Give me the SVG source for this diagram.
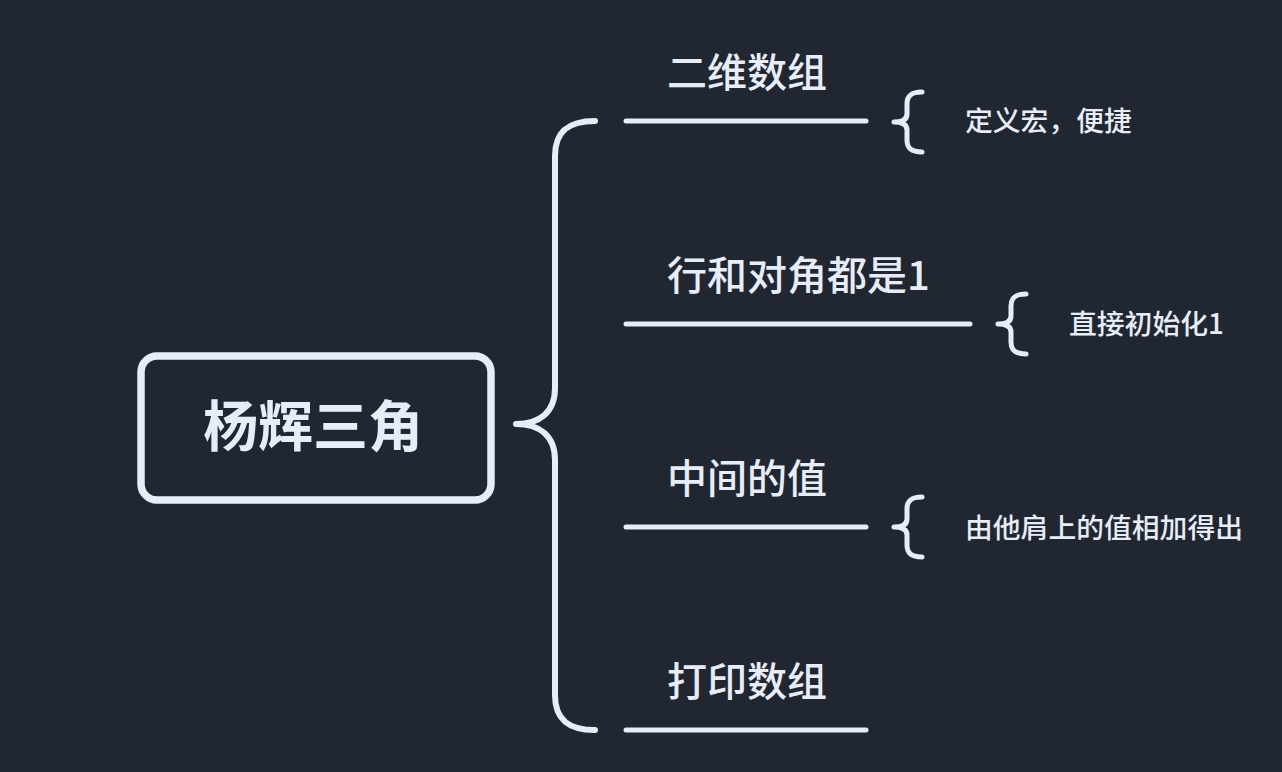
<svg xmlns="http://www.w3.org/2000/svg" width="1282" height="772" viewBox="0 0 1282 772">
<style>
.ln{fill:none;stroke:#e6edf7;stroke-width:5;stroke-linecap:round;stroke-linejoin:round}
.big{fill:none;stroke:#e6edf7;stroke-width:6;stroke-linecap:round;stroke-linejoin:round}
.t{font-family:"Noto Sans CJK SC","Liberation Sans",sans-serif;fill:#e6edf7}
.lab{font-size:40px;font-weight:500}
.sm{font-size:27.8px;font-weight:500}
</style>
<rect width="1282" height="772" fill="#212731"/>
<g id="root">
<rect x="141" y="356" width="350" height="144" rx="16" fill="none" stroke="#e6edf7" stroke-width="7.5"/>
<text class="t" x="313" y="446" font-size="55" font-weight="bold" text-anchor="middle">杨辉三角</text>
</g>
<g id="connectors">
<path class="big" d="M595,121 C570,121 555,130 555,156 L555,388 C555,412 540,424 516,424 C540,424 555,436 555,460 L555,695 C555,721 570,730 595,730"/>
<path class="ln" d="M922,92 C911,92 907,96 907,104 L907,114 C907,119 903,122 894,122 C903,122 907,125 907,130 L907,140 C907,148 911,152 922,152"/>
<path class="ln" d="M1026,294 C1015,294 1011,298 1011,306 L1011,316 C1011,321 1007,324 998,324 C1007,324 1011,327 1011,332 L1011,342 C1011,350 1015,354 1026,354"/>
<path class="ln" d="M922,497 C911,497 907,501 907,509 L907,519 C907,524 903,527 894,527 C903,527 907,530 907,535 L907,545 C907,553 911,557 922,557"/>
</g>
<g id="n1">
<line class="ln" x1="626" y1="121" x2="866" y2="121"/>
<text class="t lab" x="667" y="87">二维数组</text>
</g>
<g id="n1a"><text class="t sm" x="965" y="131">定义宏，便捷</text></g>
<g id="n2">
<line class="ln" x1="626" y1="324" x2="970" y2="324"/>
<text class="t lab" x="667" y="290">行和对角都是1</text>
</g>
<g id="n2a"><text class="t sm" x="1069" y="334">直接初始化1</text></g>
<g id="n3">
<line class="ln" x1="626" y1="527" x2="866" y2="527"/>
<text class="t lab" x="667" y="493">中间的值</text>
</g>
<g id="n3a"><text class="t sm" x="965" y="538">由他肩上的值相加得出</text></g>
<g id="n4">
<line class="ln" x1="626" y1="730" x2="866" y2="730"/>
<text class="t lab" x="667" y="696">打印数组</text>
</g>
</svg>
